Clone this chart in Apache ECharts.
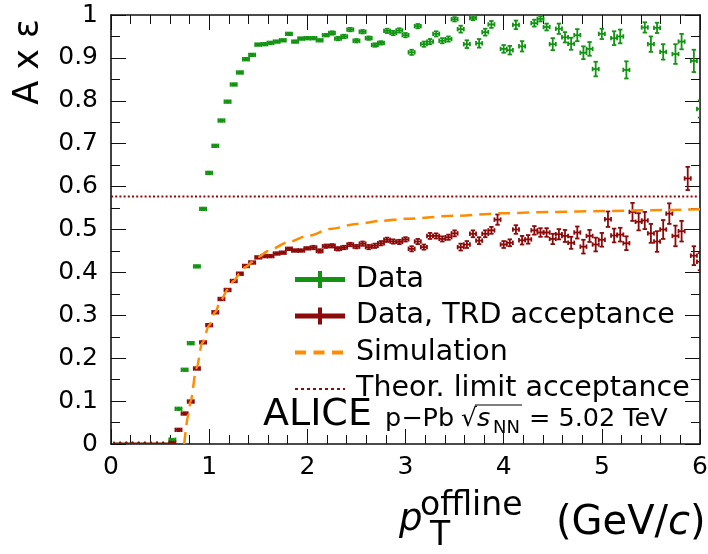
<!DOCTYPE html>
<html>
<head>
<meta charset="utf-8">
<script src="https://cdn.jsdelivr.net/npm/echarts@6/dist/echarts.min.js"></script>
<style>
  html, body { margin: 0; padding: 0; background: #fff; }
  #chart-panel { width: 708px; height: 554px; }
</style>
</head>
<body>
<div id="chart-panel"></div>
<script>
// bin centres in pT (GeV/c)
var ptBins = [
    0.0625, 0.125, 0.1875, 0.25, 0.3125, 0.375, 0.4375, 0.5, 0.5625, 0.625, 0.6875, 0.75, 0.8125, 0.875, 0.9375, 1.0,
    1.0625, 1.125, 1.1875, 1.25, 1.3125, 1.375, 1.4375, 1.5, 1.5625, 1.625, 1.6875, 1.75, 1.8125, 1.875, 1.9375, 2.0,
    2.0625, 2.125, 2.1875, 2.25, 2.3125, 2.375, 2.4375, 2.5, 2.5625, 2.625, 2.6875, 2.75, 2.8125, 2.875, 2.9375, 3.0,
    3.0625, 3.125, 3.1875, 3.25, 3.3125, 3.375, 3.4375, 3.5, 3.5625, 3.625, 3.6875, 3.75, 3.8125, 3.875, 3.9375, 4.0,
    4.0625, 4.125, 4.1875, 4.25, 4.3125, 4.375, 4.4375, 4.5, 4.5625, 4.625, 4.6875, 4.75, 4.8125, 4.875, 4.9375, 5.0,
    5.0625, 5.125, 5.1875, 5.25, 5.3125, 5.375, 5.4375, 5.5, 5.5625, 5.625, 5.6875, 5.75, 5.8125, 5.875, 5.9375, 6.0
];
var binHalfWidth = 0.03125;

// "Data"
var dataEff = [
    0, 0, 0, 0, 0, 0, 0, 0, 0, 0.010, 0.082, 0.173, 0.235, 0.414, 0.548, 0.632,
    0.695, 0.754, 0.798, 0.838, 0.866, 0.897, 0.907, 0.931, 0.932, 0.935, 0.938, 0.941, 0.956, 0.938, 0.945, 0.946,
    0.946, 0.941, 0.953, 0.958, 0.945, 0.950, 0.966, 0.940, 0.961, 0.946, 0.930, 0.935, 0.963, 0.958, 0.964, 0.953,
    0.913, 0.974, 0.932, 0.938, 0.956, 0.940, 0.944, 0.990, 0.967, 0.932, 0.993, 0.934, 0.960, 0.978, null, 0.921,
    0.918, 0.977, 0.927, null, 0.981, 0.991, 0.972, 0.932, 0.968, 0.948, 0.933, 0.953, 0.912, 0.921, 0.874, 0.956,
    null, 0.946, 0.950, 0.872, null, null, 0.971, 0.932, 0.970, 0.914, null, 0.909, 0.938, null, 0.893, 0.781
];
var dataErr = [
    0.001, 0.001, 0.001, 0.001, 0.001, 0.001, 0.001, 0.001, 0.001, 0.002, 0.003, 0.003, 0.003, 0.003, 0.003, 0.003,
    0.003, 0.003, 0.003, 0.003, 0.003, 0.003, 0.003, 0.003, 0.003, 0.003, 0.003, 0.003, 0.003, 0.003, 0.003, 0.003,
    0.003, 0.003, 0.003, 0.004, 0.004, 0.004, 0.004, 0.004, 0.004, 0.004, 0.004, 0.004, 0.005, 0.005, 0.005, 0.005,
    0.006, 0.005, 0.006, 0.006, 0.006, 0.006, 0.006, 0.005, 0.008, 0.009, 0.005, 0.010, 0.008, 0.008, null, 0.009,
    0.010, 0.010, 0.012, null, 0.008, 0.006, 0.008, 0.014, 0.012, 0.012, 0.014, 0.014, 0.015, 0.016, 0.017, 0.012,
    null, 0.016, 0.016, 0.020, null, null, 0.012, 0.018, 0.012, 0.018, null, 0.023, 0.018, null, 0.026, 0.020
];

// "Data, TRD acceptance"
var trdEff = [
    0, 0, 0, 0, 0, 0, 0, 0, 0, 0.003, 0.033, 0.071, 0.099, 0.176, 0.237, 0.277,
    0.307, 0.338, 0.359, 0.380, 0.397, 0.415, 0.423, 0.435, 0.438, 0.438, 0.444, 0.446, 0.455, 0.451, 0.451, 0.456,
    0.458, 0.450, 0.461, 0.462, 0.455, 0.458, 0.465, 0.460, 0.467, 0.459, 0.462, 0.468, 0.476, 0.472, 0.471, 0.477,
    0.455, 0.472, 0.459, 0.485, 0.485, 0.478, 0.482, 0.491, 0.459, 0.465, 0.490, 0.474, 0.490, 0.498, 0.523, 0.465,
    0.469, 0.500, 0.475, 0.477, 0.498, 0.493, 0.493, 0.478, 0.489, 0.485, 0.469, 0.493, 0.460, 0.485, 0.465, 0.476,
    0.524, 0.486, 0.488, 0.468, 0.541, 0.518, 0.521, 0.491, 0.472, 0.500, 0.537, 0.485, 0.496, 0.619, 0.439, 0.425
];
var trdErr = [
    0.001, 0.001, 0.001, 0.001, 0.001, 0.001, 0.001, 0.001, 0.001, 0.002, 0.003, 0.003, 0.003, 0.003, 0.003, 0.003,
    0.003, 0.003, 0.003, 0.003, 0.003, 0.003, 0.003, 0.003, 0.003, 0.003, 0.003, 0.003, 0.003, 0.003, 0.003, 0.003,
    0.004, 0.004, 0.004, 0.004, 0.004, 0.004, 0.004, 0.004, 0.005, 0.005, 0.005, 0.005, 0.005, 0.005, 0.005, 0.005,
    0.006, 0.006, 0.006, 0.007, 0.006, 0.006, 0.006, 0.007, 0.008, 0.008, 0.008, 0.008, 0.008, 0.008, 0.012, 0.008,
    0.008, 0.010, 0.010, 0.010, 0.010, 0.010, 0.010, 0.012, 0.012, 0.014, 0.014, 0.014, 0.016, 0.014, 0.016, 0.016,
    0.018, 0.016, 0.016, 0.016, 0.021, 0.020, 0.020, 0.022, 0.024, 0.022, 0.024, 0.024, 0.024, 0.027, 0.022, 0.020
];

// "Simulation"
var simPt  = [0.746, 0.79, 0.81, 0.87, 0.93, 1.0, 1.06, 1.12, 1.19, 1.25, 1.31, 1.375, 1.44, 1.5, 1.6, 1.8, 2.0, 2.25, 2.5, 2.75, 3.0, 3.5, 4.0, 4.5, 5.0, 5.5, 6.0];
var simEff = [0.0, 0.070, 0.099, 0.176, 0.236, 0.277, 0.307, 0.336, 0.360, 0.380, 0.397, 0.413, 0.425, 0.436, 0.450, 0.470, 0.485, 0.502, 0.513, 0.520, 0.525, 0.532, 0.538, 0.541, 0.543, 0.545, 0.547];

// theoretical acceptance limit
var theorLimit = 0.577;

var xTicks = { min: 0, max: 6, interval: 1 };
var yTicks = { min: 0, max: 1, interval: 0.1 };

var green = '#129412';
var red = '#8c0a0a';
var orange = '#ff8c00';
var font = 'DejaVu Sans';
var clear = 'rgba(0,0,0,0)';

function points(vals, errs) {
    var res = [];
    for (var i = 0; i < ptBins.length; i++) {
        if (vals[i] == null) continue;
        res.push([ptBins[i], vals[i], errs[i]]);
    }
    return res;
}

function errorBars(color) {
    return function (params, api) {
        var x = api.value(0), y = api.value(1), e = api.value(2);
        var l = api.coord([x - binHalfWidth, y]);
        var r = api.coord([x + binHalfWidth, y]);
        var t = api.coord([x, y + e]);
        var b = api.coord([x, y - e]);
        var st = { stroke: color, lineWidth: 1.8 };
        var c = 2.2;
        return {
            type: 'group',
            children: [
                { type: 'line', shape: { x1: l[0], y1: l[1], x2: r[0], y2: r[1] }, style: st },
                { type: 'line', shape: { x1: l[0], y1: l[1] - c, x2: l[0], y2: l[1] + c }, style: st },
                { type: 'line', shape: { x1: r[0], y1: r[1] - c, x2: r[0], y2: r[1] + c }, style: st },
                { type: 'line', shape: { x1: t[0], y1: t[1], x2: b[0], y2: b[1] }, style: st },
                { type: 'line', shape: { x1: t[0] - c, y1: t[1], x2: t[0] + c, y2: t[1] }, style: st },
                { type: 'line', shape: { x1: b[0] - c, y1: b[1], x2: b[0] + c, y2: b[1] }, style: st }
            ]
        };
    };
}

var plusIcon = 'path://M0,6L50,6L50,11L0,11Z M23,0L27,0L27,17L23,17Z';

function frameAxis(extra) {
    var ax = {
        type: 'value',
        axisLine: { show: true, onZero: false, lineStyle: { color: '#111', width: 1.6 } },
        axisTick: { show: true, inside: true, length: 15, lineStyle: { color: '#111', width: 1 } },
        minorTick: { show: true, length: 9, lineStyle: { color: '#111', width: 1 } },
        splitLine: { show: false },
        axisLabel: { show: false }
    };
    for (var k in extra) ax[k] = extra[k];
    return ax;
}

function txt(x, y, text, f, more) {
    var style = { text: text, font: f, fill: '#000', verticalAlign: 'middle', textVerticalAlign: 'middle' };
    for (var k in more) style[k] = more[k];
    return { type: 'text', x: x, y: y, style: style };
}

var myChart = echarts.init(document.getElementById('chart-panel'));

myChart.setOption({
    backgroundColor: '#fff',
    animation: false,
    grid: { left: 111, right: 8, top: 15, bottom: 110, outerBoundsMode: 'none' },
    xAxis: [
        frameAxis({
            position: 'bottom', min: xTicks.min, max: xTicks.max, interval: xTicks.interval,
            minorTick: { show: true, splitNumber: 5, length: 9, lineStyle: { color: '#111', width: 1 } },
            axisLabel: { show: true, margin: 11, fontFamily: font, fontSize: 25, color: '#000' }
        }),
        frameAxis({
            position: 'top', min: xTicks.min, max: xTicks.max, interval: xTicks.interval,
            minorTick: { show: true, splitNumber: 5, length: 9, lineStyle: { color: '#111', width: 1 } }
        })
    ],
    yAxis: [
        frameAxis({
            position: 'left', min: yTicks.min, max: yTicks.max, interval: yTicks.interval,
            minorTick: { show: true, splitNumber: 2, length: 9, lineStyle: { color: '#111', width: 1 } },
            axisLabel: { show: true, margin: 13, fontFamily: font, fontSize: 25, color: '#000' }
        }),
        frameAxis({
            position: 'right', min: yTicks.min, max: yTicks.max, interval: yTicks.interval,
            minorTick: { show: true, splitNumber: 2, length: 9, lineStyle: { color: '#111', width: 1 } }
        })
    ],
    legend: {
        orient: 'vertical',
        left: 293,
        top: 265,
        padding: 0,
        itemWidth: 50,
        itemHeight: 17,
        itemGap: 7.5,
        selectedMode: false,
        textStyle: { fontFamily: font, fontSize: 28.5, color: '#000', padding: [0, 0, 0, 6] },
        data: [
            { name: 'Data', icon: plusIcon, itemStyle: { color: green, borderWidth: 0 } },
            { name: 'Data, TRD acceptance', icon: plusIcon, itemStyle: { color: red, borderWidth: 0 } },
            {
                name: 'Simulation',
                itemStyle: { color: clear, borderColor: clear, borderWidth: 0 },
                lineStyle: { color: orange, width: 4, type: [11, 7.5] }
            },
            {
                name: 'Theor. limit acceptance',
                itemStyle: { color: clear, borderColor: clear, borderWidth: 0 },
                lineStyle: { color: red, width: 2, type: [3, 3] }
            }
        ]
    },
    graphic: [
        {
            type: 'text', x: 29, y: 19, rotation: Math.PI / 2,
            style: { text: 'A x ε', font: '35px "DejaVu Sans"', fill: '#000', align: 'right', textAlign: 'right', verticalAlign: 'middle', textVerticalAlign: 'middle' }
        },
        txt(399, 520, 'p', 'italic 37px "DejaVu Sans"'),
        txt(420, 506, 'offline', '33px "DejaVu Sans"'),
        txt(430, 536, 'T', '33px "DejaVu Sans"'),
        {
            type: 'text', x: 556, y: 524,
            style: {
                text: '{n|(GeV/}{i|c}{n|)}', fill: '#000', verticalAlign: 'middle', textVerticalAlign: 'middle',
                rich: {
                    n: { fontFamily: font, fontSize: 40, fill: '#000' },
                    i: { fontFamily: font, fontSize: 40, fontStyle: 'italic', fill: '#000' }
                }
            }
        },
        txt(263, 415, 'ALICE', '38px "DejaVu Sans"'),
        txt(385, 419, 'p−Pb', '25.5px "DejaVu Sans"'),
        txt(461, 419, '√', '25px "DejaVu Sans"'),
        { type: 'line', shape: { x1: 475, y1: 405, x2: 522, y2: 405 }, style: { stroke: '#000', lineWidth: 1.2 } },
        txt(477, 419, 's', 'italic 25.5px "DejaVu Sans"'),
        txt(493, 428, 'NN', '18px "DejaVu Sans"'),
        txt(529, 419, '= 5.02 TeV', '25.5px "DejaVu Sans"')
    ],
    series: [
        {
            name: 'Theor. limit acceptance',
            type: 'line',
            symbol: 'none',
            data: [[xTicks.min, theorLimit], [xTicks.max, theorLimit]],
            lineStyle: { color: red, width: 2, type: [2, 2.2] },
            itemStyle: { color: red },
            z: 2
        },
        {
            name: 'Data',
            type: 'custom',
            clip: true,
            renderItem: errorBars(green),
            itemStyle: { color: green },
            data: points(dataEff, dataErr),
            z: 3
        },
        {
            name: 'Data, TRD acceptance',
            type: 'custom',
            clip: true,
            renderItem: errorBars(red),
            itemStyle: { color: red },
            data: points(trdEff, trdErr),
            z: 3
        },
        {
            name: 'Simulation',
            type: 'line',
            symbol: 'none',
            smooth: 0.3,
            smoothMonotone: 'x',
            data: simPt.map(function (p, i) { return [p, simEff[i]]; }),
            lineStyle: { color: orange, width: 2.5, type: [12, 7] },
            itemStyle: { color: orange },
            z: 4
        }
    ]
});
</script>
</body>
</html>
